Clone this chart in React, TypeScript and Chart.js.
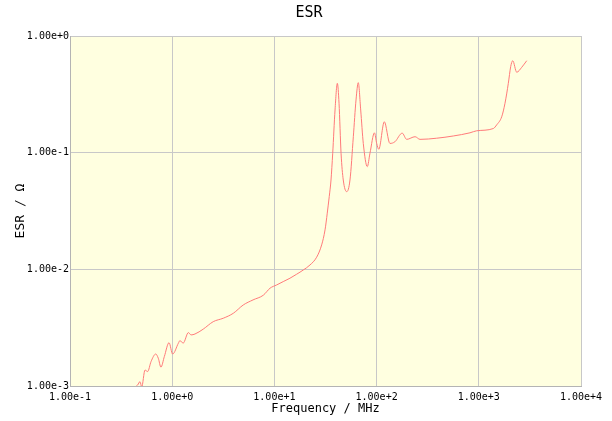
import React, { useEffect, useRef } from "react";
import { Chart, registerables } from "chart.js";

Chart.register(...registerables);

// Frequency (MHz) and ESR (Ohm)
const freqMHz: number[] = [
  0.432, 0.459, 0.484, 0.503, 0.542, 0.575, 0.621, 0.69, 0.731, 0.776,
  0.838, 0.931, 1.01, 1.15, 1.19, 1.28, 1.44, 1.53, 1.67, 2.01,
  2.52, 3.16, 3.96, 4.96, 6.18, 7.79, 9.06, 10.53, 12.2, 14.2,
  16.5, 19.2, 22.3, 25.9, 29.0, 31.3, 32.9, 34.4, 35.8, 37.2,
  39.2, 41.3, 42.9, 44.9, 47.2, 51.0, 54.9, 59.2, 62.9, 66.2,
  69.9, 74.1, 81.1, 86.1, 95.3, 100.2, 105, 119, 135, 151,
  178, 197, 238, 266, 387, 563, 820, 953, 1387, 1496,
  1675, 1804, 1945, 2051, 2148, 2350, 2630, 2944,
];

const esrOhm: number[] = [
  0.00098, 0.00102, 0.00109, 0.00098, 0.00137, 0.00133, 0.00162, 0.00188, 0.00173, 0.00145,
  0.00179, 0.00235, 0.00188, 0.00233, 0.00245, 0.00233, 0.00287, 0.00274, 0.00279, 0.00307,
  0.00356, 0.00381, 0.0042, 0.00495, 0.00547, 0.006, 0.00689, 0.00735, 0.00785, 0.00839,
  0.00908, 0.00988, 0.0109, 0.0127, 0.0162, 0.0218, 0.0303, 0.042, 0.0583, 0.0988,
  0.232, 0.393, 0.265, 0.0988, 0.0583, 0.0463, 0.0583, 0.137, 0.283, 0.398,
  0.232, 0.12, 0.0759, 0.0988, 0.148, 0.12, 0.107, 0.184, 0.12, 0.124,
  0.147, 0.13, 0.137, 0.13, 0.133, 0.139, 0.148, 0.154, 0.161, 0.173,
  0.203, 0.265, 0.393, 0.546, 0.614, 0.489, 0.539, 0.614,
];

const xTickValues: number[] = [0.1, 1, 10, 100, 1000, 10000];
const yTickValues: number[] = [0.001, 0.01, 0.1, 1];

const chartTitle = "ESR";
const xTitle = "Frequency / MHz";
const yTitle = "ESR / Ω";

const MONO = "'DejaVu Sans Mono', 'Liberation Mono', monospace";

const bgPlugin = {
  id: "plotBg",
  beforeDraw(chart: any) {
    const { ctx, chartArea } = chart;
    if (!chartArea) return;
    ctx.save();
    ctx.fillStyle = "#ffffe0";
    ctx.fillRect(chartArea.left, chartArea.top, chartArea.right - chartArea.left, chartArea.bottom - chartArea.top);
    ctx.restore();
  },
};

const titlePlugin = {
  id: "pageTitle",
  afterDraw(chart: any) {
    const { ctx, width } = chart;
    ctx.save();
    ctx.fillStyle = "#000";
    ctx.font = `15px ${MONO}`;
    ctx.textAlign = "center";
    ctx.textBaseline = "middle";
    ctx.fillText(chartTitle, width / 2 + 3, 13);
    ctx.restore();
  },
};

export default function App() {
  const ref = useRef<HTMLCanvasElement | null>(null);

  useEffect(() => {
    document.body.style.margin = "0";
    if (!ref.current) return;
    const points = freqMHz.map((f, i) => ({ x: f, y: esrOhm[i] }));
    const chart = new Chart(ref.current, {
      type: "scatter",
      data: {
        datasets: [
          {
            data: points,
            showLine: true,
            borderColor: "#ff7a7a",
            borderWidth: 1,
            pointRadius: 0,
            cubicInterpolationMode: "monotone",
          },
        ],
      },
      options: {
        responsive: false,
        animation: false,
        layout: { padding: { left: 0, right: 31, top: 36, bottom: 0 } },
        plugins: {
          legend: { display: false },
          tooltip: { enabled: false },
          title: { display: false },
        },
        scales: {
          x: {
            type: "logarithmic",
            min: 0.1,
            max: 10000,
            afterFit: (s: any) => {
              s.height = 35;
            },
            afterBuildTicks: (s: any) => {
              s.ticks = xTickValues.map((v) => ({ value: v }));
            },
            ticks: {
              autoSkip: false,
              maxRotation: 0,
              padding: 5,
              color: "#000",
              font: { family: MONO, size: 10 },
              callback: (v: any) => Number(v).toExponential(2),
            },
            grid: { color: "#c8c8c8", drawTicks: false, lineWidth: 1 },
            border: { color: "#b4b4b4" },
            title: {
              display: true,
              text: xTitle,
              color: "#000",
              font: { family: MONO, size: 12 },
              padding: { top: 0, bottom: 5 },
            },
          },
          y: {
            type: "logarithmic",
            min: 0.001,
            max: 1,
            afterFit: (s: any) => {
              s.width = 70;
            },
            afterBuildTicks: (s: any) => {
              s.ticks = yTickValues.map((v) => ({ value: v }));
            },
            ticks: {
              autoSkip: false,
              padding: 1,
              color: "#000",
              font: { family: MONO, size: 10 },
              callback: (v: any) => Number(v).toExponential(2),
            },
            grid: { color: "#c8c8c8", drawTicks: false, lineWidth: 1 },
            border: { color: "#b4b4b4" },
            title: {
              display: true,
              text: yTitle,
              color: "#000",
              font: { family: MONO, size: 13 },
              padding: { top: 13, bottom: 0 },
            },
          },
        },
      },
      plugins: [bgPlugin, titlePlugin],
    });
    return () => chart.destroy();
  }, []);

  return (
    <div style={{ position: "absolute", left: 0, top: 0, width: 612, height: 421 }}>
      <canvas ref={ref} width={612} height={421} />
    </div>
  );
}
